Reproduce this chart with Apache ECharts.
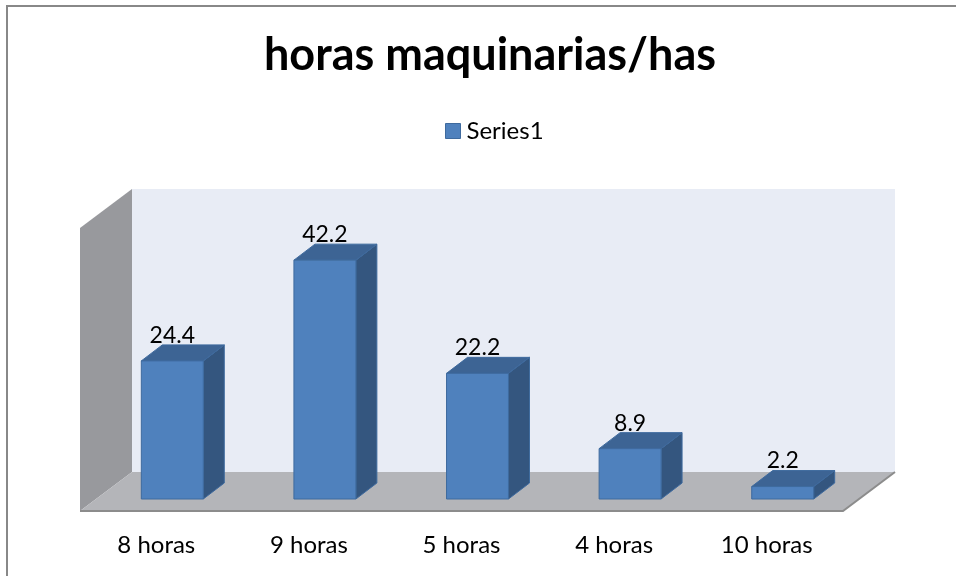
<!DOCTYPE html>
<html>
<head>
<meta charset="utf-8">
<script src="https://cdn.jsdelivr.net/npm/echarts@6/dist/echarts.min.js"></script>
<style>
  html, body { margin: 0; padding: 0; background: #fff; }
  #main { width: 956px; height: 576px; }
</style>
</head>
<body>
<div id="main"></div>
<script>
// datos del gráfico
var categorias = ['8 horas', '9 horas', '5 horas', '4 horas', '10 horas'];
var valores = [24.4, 42.2, 22.2, 8.9, 2.2];
var nombreSerie = 'Series1';

var chart = echarts.init(document.getElementById('main'));

// desplazamientos de la perspectiva (px)
var PROF_BARRA = [21, -16];   // fondo de cada barra
var PARED = [36, -27];        // pared trasera respecto al plano de las barras
var FRENTE = [-16, 12];       // borde delantero del piso

function paredes(params, api) {
    var c = params.coordSys;
    var x = c.x, y = c.y, w = c.width, h = c.height, yb = y + h;
    return {
        type: 'group',
        silent: true,
        children: [
            { // pared lateral
                type: 'polygon',
                shape: { points: [
                    [x + FRENTE[0], yb + FRENTE[1]], [x + PARED[0], yb + PARED[1]],
                    [x + PARED[0], y + PARED[1]], [x + FRENTE[0], y + FRENTE[1]]
                ] },
                style: { fill: '#98999d', stroke: null }
            },
            { // pared trasera
                type: 'rect',
                shape: { x: x + PARED[0], y: y + PARED[1], width: w, height: h },
                style: { fill: '#e8ecf5', stroke: null }
            },
            { // piso
                type: 'polygon',
                shape: { points: [
                    [x + FRENTE[0], yb + FRENTE[1]], [x + w + FRENTE[0], yb + FRENTE[1]],
                    [x + w + PARED[0], yb + PARED[1]], [x + PARED[0], yb + PARED[1]]
                ] },
                style: { fill: '#b4b5b9', stroke: null }
            },
            { // bordes del piso
                type: 'polyline',
                shape: { points: [
                    [x + FRENTE[0], yb + FRENTE[1]], [x + w + FRENTE[0], yb + FRENTE[1]],
                    [x + w + PARED[0], yb + PARED[1]]
                ] },
                style: { stroke: '#8c8c8c', lineWidth: 2, fill: null }
            }
        ]
    };
}

function barra3d(params, api) {
    var idx = api.value(0);
    var val = api.value(1);
    var top = api.coord([idx, val]);
    var base = api.coord([idx, 0]);
    var bw = api.size([1, 0])[0] * 0.406;
    var x0 = top[0] - bw / 2, x1 = top[0] + bw / 2;
    var yt = top[1], yb = base[1];
    var dx = PROF_BARRA[0], dy = PROF_BARRA[1];
    var borde = '#3e6a9e';
    return {
        type: 'group',
        children: [
            {
                type: 'polygon',
                shape: { points: [[x1, yt], [x1 + dx, yt + dy], [x1 + dx, yb + dy], [x1, yb]] },
                style: { fill: '#34567f', stroke: borde, lineWidth: 1 }
            },
            {
                type: 'polygon',
                shape: { points: [[x0, yt], [x1, yt], [x1 + dx, yt + dy], [x0 + dx, yt + dy]] },
                style: { fill: '#3d6494', stroke: borde, lineWidth: 1 }
            },
            {
                type: 'rect',
                shape: { x: x0, y: yt, width: bw, height: yb - yt },
                style: { fill: '#4f81bd', stroke: borde, lineWidth: 1 }
            },
            {
                type: 'text',
                x: top[0],
                y: yt - 14,
                style: {
                    text: String(val),
                    fontFamily: 'Lato',
                    fontSize: 23,
                    fill: '#000',
                    align: 'center',
                    verticalAlign: 'bottom'
                }
            }
        ]
    };
}

var datos = valores.map(function (v, i) { return [i, v]; });

var option = {
    animation: false,
    backgroundColor: '#fff',
    title: {
        text: 'horas maquinarias/has',
        left: 485,
        textAlign: 'center',
        top: 28,
        textStyle: { fontFamily: 'Lato', fontSize: 45, fontWeight: 'bold', color: '#000' }
    },
    legend: {
        data: [nombreSerie],
        top: 114,
        left: 440,
        itemWidth: 15,
        itemHeight: 15,
        itemGap: 4,
        icon: 'rect',
        textStyle: { fontFamily: 'Lato', fontSize: 24, color: '#000', padding: [0, 0, 0, 1] },
        itemStyle: { color: '#4f81bd', borderColor: '#3e6a9e', borderWidth: 1 }
    },
    graphic: [
        { type: 'polyline', shape: { points: [[7, 576], [7, 6], [956, 6]] },
          style: { stroke: '#888', lineWidth: 2, fill: null }, z: 100 }
    ],
    grid: { left: 96, top: 216, width: 763, height: 283 },
    xAxis: {
        type: 'category',
        data: categorias,
        axisLine: { show: false },
        axisTick: { show: false },
        axisLabel: {
            margin: 34,
            fontFamily: 'Lato',
            fontSize: 24,
            color: '#000',
            padding: [0, 32, 0, 0]
        }
    },
    yAxis: {
        type: 'value',
        min: 0,
        max: 50,
        interval: 10,
        show: false
    },
    series: [
        {
            name: 'paredes',
            type: 'custom',
            renderItem: paredes,
            data: [[0, 0]],
            z: 1,
            silent: true
        },
        {
            name: nombreSerie,
            type: 'custom',
            renderItem: barra3d,
            itemStyle: { color: '#4f81bd' },
            encode: { x: 0, y: 1 },
            data: datos,
            z: 2
        }
    ]
};

chart.setOption(option);
</script>
</body>
</html>
